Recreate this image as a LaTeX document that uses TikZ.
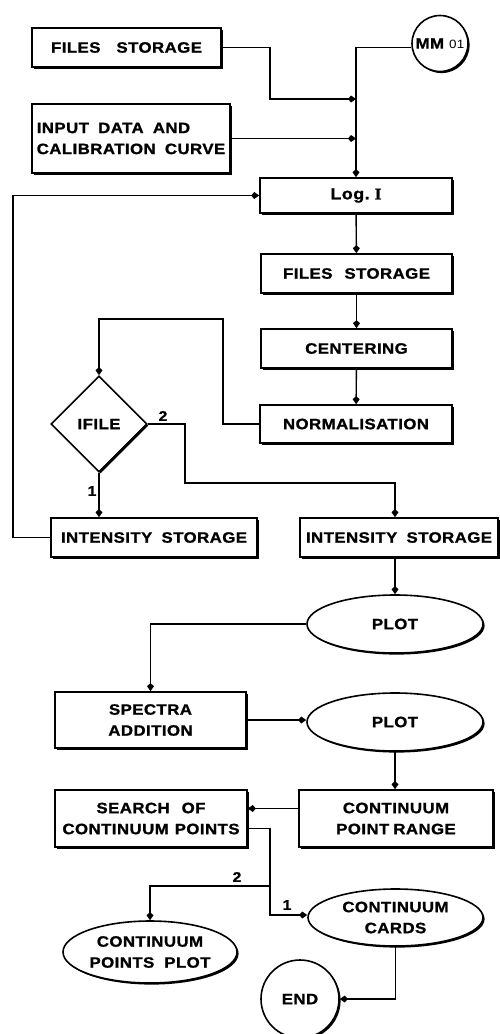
\documentclass[tikz,border=0pt]{standalone}
\usepackage{fontspec}
\setmainfont{Liberation Sans}[FakeStretch=1.12,LetterSpace=3,WordSpace=1.8,BoldFeatures={FakeBold=1.2}]
\newfontfamily\serifbf{Liberation Serif}[FakeStretch=1.1,BoldFeatures={FakeBold=1.2}]
\usetikzlibrary{arrows.meta,shapes.geometric,shadows}
\begin{document}
\begin{tikzpicture}[x=1pt,y=-1pt,
  every node/.style={font=\fontsize{15}{21}\selectfont\bfseries},
  shad/.style={drop shadow={shadow xshift=1.6pt,shadow yshift=-1.6pt,opacity=1,fill=black}},
  box/.style={draw,line width=1.6pt,fill=white,rectangle,inner sep=0pt,align=center,shad},
  ell/.style={box,ellipse},
  rnd/.style={box,circle},
  dia/.style={box,diamond,aspect=1},
  lbl/.style={inner sep=0pt,font=\fontsize{14}{15}\selectfont\bfseries},
  arr/.style={line width=1.4pt,-{Kite[length=8pt,width=7pt,inset=3pt]}},
  conn/.style={line width=1.4pt}
]
\useasboundingbox (0,0) rectangle (499,1034);

% nodes
\node[box,minimum width=189,minimum height=39] (fs1) at (126.5,47.5) {FILES\hspace{16pt}STORAGE};
\node[box,minimum width=198,minimum height=69,align=left] (inp) at (131,138.5) {INPUT DATA AND\\CALIBRATION CURVE};
\node[rnd,minimum size=56] (mm) at (440,43.5) {\fontsize{15}{17}\selectfont MM\hspace{5pt}{\mdseries\fontsize{12}{13}\selectfont 01}};
\node[box,minimum width=192,minimum height=35] (log) at (356,195.5) {\fontsize{16}{18}\selectfont Log.\hspace{5pt}{\serifbf\bfseries I}};
\node[box,minimum width=191,minimum height=39] (fs2) at (356.5,273.5) {FILES\hspace{12pt}STORAGE};
\node[box,minimum width=191,minimum height=39] (cen) at (356.5,348.5) {CENTERING};
\node[box,minimum width=192,minimum height=38] (nor) at (356,424) {NORMALISATION};
\node[dia,minimum width=96,minimum height=96] (ifile) at (99,424) {IFILE};
\node[box,minimum width=206,minimum height=39] (is1) at (154,537.5) {INTENSITY STORAGE};
\node[box,minimum width=198,minimum height=39] (is2) at (399,537.5) {INTENSITY STORAGE};
\node[ell,minimum width=176,minimum height=58] (plot1) at (395,624) {PLOT};
\node[box,minimum width=191,minimum height=56] (spec) at (150.5,720) {SPECTRA\\ADDITION};
\node[ell,minimum width=176,minimum height=58] (plot2) at (395,722) {PLOT};
\node[box,minimum width=192,minimum height=57] (search) at (151,818.5) {SEARCH\hspace{12pt}OF\\CONTINUUM\hspace{6pt}POINTS};
\node[box,minimum width=194,minimum height=57] (cpr) at (396,818.5) {CONTINUUM\\POINT\hspace{4pt}RANGE};
\node[ell,minimum width=175,minimum height=57] (cards) at (395.5,917.5) {CONTINUUM\\CARDS};
\node[ell,minimum width=174,minimum height=62] (cpp) at (150,952) {CONTINUUM\\POINTS\hspace{10pt}PLOT};
\node[rnd,minimum size=78] (end) at (300,999) {END};

% branch labels
\node[lbl] (l2a) at (163,416) {2};
\node[lbl] (l1a) at (92,491) {1};
\node[lbl] (l2b) at (237,877) {2};
\node[lbl] (l1b) at (287,905) {1};

% connectors
\coordinate (j1) at (log.north |- 0,99);
\draw[arr] (fs1.east) -| (270,99) -- (j1);
\draw[arr] (mm.west |- fs1.east) -| (log.north);
\draw[arr] (inp.east) -- (inp.east -| log.north);
\draw[arr] (log) -- (fs2);
\draw[arr] (fs2) -- (cen);
\draw[arr] (cen) -- (nor);
\draw[arr] (nor.west) -| (223,319) -| (ifile.north);
\draw[arr] (ifile.east) -| (185,483) -| (plot1.north |- is2.north);
\draw[arr] (ifile.south) -- (ifile.south |- is1.north);
\draw[arr] (is1.west) -- (13,537.5) |- (log.west);
\draw[arr] (plot1.north |- is2.south) -- (plot1.north);
\draw[arr] (plot1.west) -| (spec.north);
\draw[arr] (spec.east) -- (spec.east -| plot2.west);
\draw[arr] (plot2.south) -- (plot2.south |- cpr.north);
\draw[arr] ([yshift=10pt]cpr.west) -- ([yshift=10pt]search.east);
\coordinate (br) at (270,886);
\draw[arr] ([yshift=-10pt]search.east) -| (270,915) -- (270,915 -| cards.west);
\draw[arr] (br) -| (cpp.north);
\draw[arr] (cards.south) |- (end.east);
\end{tikzpicture}
\end{document}
